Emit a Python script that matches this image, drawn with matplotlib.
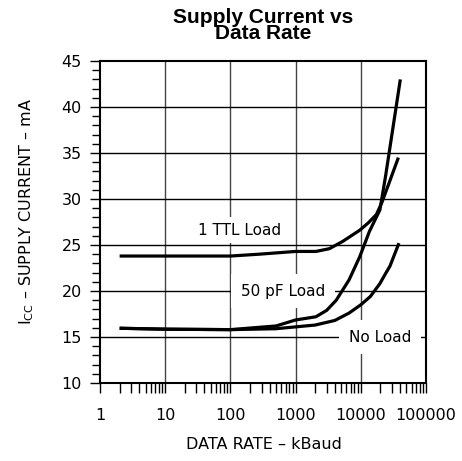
import matplotlib
matplotlib.use("Agg")
import matplotlib.pyplot as plt
from matplotlib.ticker import MultipleLocator, LogLocator, FixedLocator, NullFormatter

# ---- data ----
x_ticks = [1, 10, 100, 1000, 10000, 100000]
x_ticklabels = ["1", "10", "100", "1000", "10000", "100000"]
y_ticks = [10, 15, 20, 25, 30, 35, 40, 45]

ttl_rate = [2, 10, 100, 275, 1000, 2050, 3300, 5300, 9600, 13000, 17300, 21000, 28000, 37700]
ttl_icc = [23.8, 23.8, 23.8, 24.0, 24.3, 24.3, 24.6, 25.4, 26.6, 27.4, 28.3, 29.6, 32.0, 34.5]

pf50_rate = [2, 10, 100, 500, 1000, 2050, 3000, 4200, 6600, 9600, 13600, 19600, 24000, 30000, 40400]
pf50_icc = [15.95, 15.85, 15.8, 16.2, 16.85, 17.2, 17.9, 19.0, 21.2, 23.7, 26.5, 28.8, 32.5, 37.0, 43.0]

noload_rate = [2, 10, 100, 500, 1000, 2000, 4000, 6600, 10000, 14000, 19600, 24000, 28000, 33000, 38500]
noload_icc = [15.95, 15.85, 15.8, 15.9, 16.1, 16.3, 16.8, 17.6, 18.5, 19.4, 20.8, 21.9, 22.7, 24.0, 25.2]

curve_labels = ["1 TTL Load", "50 pF Load", "No Load"]
label_pos = [(140, 26.6), (640, 20.0), (19600, 15.0)]

# ---- figure ----
W, H = 462, 461
fig = plt.figure(figsize=(W / 100, H / 100), dpi=100)
ax = fig.add_axes([100 / W, 1 - 383 / H, 326 / W, 322 / H])
ax.set_xscale("log")
ax.set_xlim(1, 100000)
ax.set_ylim(10, 45)

font = "DejaVu Sans"

# grid
ax.set_axisbelow(True)
for xv in x_ticks[1:-1]:
    ax.axvline(xv, color="#444444", lw=1.0, zorder=0.5)
for yv in y_ticks[1:-1]:
    ax.axhline(yv, color="black", lw=1.0, zorder=0.5)

# curves
for xs, ys in [(ttl_rate, ttl_icc), (pf50_rate, pf50_icc), (noload_rate, noload_icc)]:
    ax.plot(xs, ys, color="black", lw=2.3, solid_capstyle="butt", zorder=3)

# curve labels
for txt, (lx, ly), pad in zip(curve_labels, label_pos, [4, 7, 7]):
    ax.text(lx, ly, txt, ha="center", va="center", fontsize=11, family=font,
            zorder=2, bbox=dict(facecolor="white", edgecolor="none", pad=pad))

# ticks
ax.xaxis.set_major_locator(FixedLocator(x_ticks))
ax.set_xticklabels(x_ticklabels)
ax.xaxis.set_minor_locator(LogLocator(base=10, subs=[2, 3, 4, 5, 6, 7, 8, 9], numticks=20))
ax.xaxis.set_minor_formatter(NullFormatter())
ax.yaxis.set_major_locator(FixedLocator(y_ticks))
ax.yaxis.set_minor_locator(MultipleLocator(1))

ax.tick_params(axis="x", which="major", direction="out", length=7, width=1, pad=11,
               labelsize=11.5)
ax.tick_params(axis="x", which="minor", direction="out", length=7, width=1)
ax.tick_params(axis="y", which="major", direction="out", length=7, width=1, pad=6,
               labelsize=11.5)
ax.tick_params(axis="y", which="minor", direction="out", length=6, width=1)
for lab in ax.get_xticklabels() + ax.get_yticklabels():
    lab.set_family(font)

for sp in ax.spines.values():
    sp.set_linewidth(1.5)
    sp.set_color("black")

# axis labels
fig.text(264 / W, 1 - 444 / H, "DATA RATE \u2013 kBaud", ha="center", va="center",
         fontsize=11.5, family=font)
fig.text(27 / W, 1 - 212 / H, "I$_{\\mathregular{CC}}$ \u2013 SUPPLY CURRENT \u2013 mA",
         ha="center", va="center", rotation=90, fontsize=11.5, family=font)

# title
fig.text(263 / W, 1 - 8 / H, "Supply Current vs\nData Rate", ha="center", va="top",
         fontsize=15, fontweight="bold", family="Liberation Sans", linespacing=0.82)

fig.savefig("out.png", dpi=100)
